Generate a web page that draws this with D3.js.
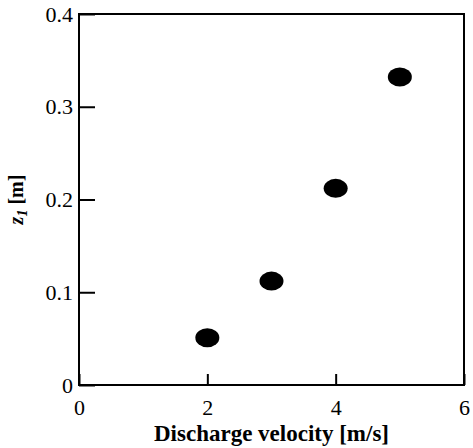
<!DOCTYPE html>
<html>
<head>
<meta charset="utf-8">
<script src="https://cdn.jsdelivr.net/npm/d3@7"></script>
<style>
  body { margin: 0; background: #fff; }
</style>
</head>
<body>
<div id="app"></div>
<script>
// Data
const velocity = [2, 3, 4, 5];
const z1 = [0.051, 0.112, 0.212, 0.332];
const xTicks = [0, 2, 4, 6];
const yTicks = [0, 0.1, 0.2, 0.3, 0.4];

const fontFamily = '"Liberation Serif", "Times New Roman", serif';

// Constants
const width = 473;
const height = 448;
const margin = ({
  top: 14,
  right: 9,
  bottom: 63,
  left: 79,
});
const plotWidth = width - margin.left - margin.right;
const plotHeight = height - margin.top - margin.bottom;

const svg = d3.select('#app')
  .append('svg')
  .attr('width', width)
  .attr('height', height)
  .style('font-family', fontFamily);

const plot = svg.append('g')
  .attr('transform', `translate(${margin.left}, ${margin.top})`);

const xScale = d3.scaleLinear()
  .domain([0, 6])
  .range([0, plotWidth]);

const yScale = d3.scaleLinear()
  .domain([0, 0.4])
  .range([plotHeight, 0]);

// Axes (ticks point inward)
const xAxis = d3.axisBottom(xScale)
  .tickValues(xTicks)
  .tickSize(-11)
  .tickPadding(15)
  .tickFormat((d) => d);
plot.append('g')
  .attr('class', 'xAxis')
  .attr('transform', `translate(0, ${plotHeight})`)
  .call(xAxis);

const yAxis = d3.axisLeft(yScale)
  .tickValues(yTicks)
  .tickSize(-16)
  .tickPadding(6)
  .tickFormat((d) => (d === 0 ? '0' : d3.format('.1f')(d)));
plot.append('g')
  .attr('class', 'yAxis')
  .call(yAxis);

plot.selectAll('.xAxis, .yAxis')
  .attr('font-family', null)
  .attr('font-size', null);
plot.selectAll('.domain').remove();
plot.selectAll('.tick line')
  .attr('stroke', '#000')
  .attr('stroke-width', 2);
plot.selectAll('.tick text')
  .attr('fill', '#000')
  .style('font-family', fontFamily)
  .style('font-size', '22px');
plot.selectAll('.xAxis .tick text').attr('dy', '0.68em');

// Frame
plot.append('rect')
  .attr('x', 0)
  .attr('y', 0)
  .attr('width', plotWidth)
  .attr('height', plotHeight)
  .attr('fill', 'none')
  .attr('stroke', '#000')
  .attr('stroke-width', 2);

// Points
plot.append('g')
  .selectAll('ellipse')
  .data(velocity)
  .join('ellipse')
  .attr('cx', (d) => xScale(d))
  .attr('cy', (d, i) => yScale(z1[i]))
  .attr('rx', 12)
  .attr('ry', 9.5)
  .attr('fill', '#000');

// Labels
svg.append('text')
  .attr('text-anchor', 'middle')
  .attr('x', margin.left + plotWidth / 2)
  .attr('y', 441)
  .style('font-family', fontFamily)
  .style('font-size', '23px')
  .style('font-weight', 'bold')
  .text('Discharge velocity [m/s]');

const yLabel = svg.append('text')
  .attr('text-anchor', 'middle')
  .attr('transform', `translate(23, ${margin.top + plotHeight / 2}) rotate(-90)`)
  .style('font-family', fontFamily)
  .style('font-size', '20px')
  .style('font-weight', 'bold');
yLabel.append('tspan').style('font-style', 'italic').text('z');
yLabel.append('tspan')
  .style('font-style', 'italic')
  .style('font-size', '14px')
  .attr('dy', 4)
  .text('1');
yLabel.append('tspan').attr('dy', -4).text(' [m]');
</script>
</body>
</html>
